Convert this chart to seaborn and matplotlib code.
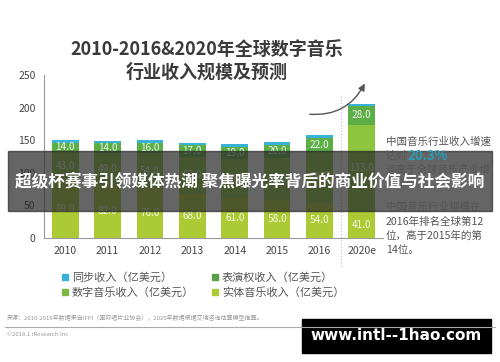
import numpy as np
import pandas as pd
import matplotlib
matplotlib.use('Agg')
import matplotlib.pyplot as plt
import seaborn as sns
from matplotlib.patches import Rectangle

# ──────────────────────────────────────────────
#  Données
# ──────────────────────────────────────────────
annees = ['2010', '2011', '2012', '2013', '2014', '2015', '2016', '2020e']
physique = [89, 82, 76, 68, 61, 58, 54, 41]
numerique = [43, 49, 54, 57, 60, 65, 78, 133]
droits_execution = [14, 14, 16, 17, 19, 20, 22, 28]
synchro = [4, 4, 4, 4, 4, 4, 4, 4]

noms_series = ['同步收入（亿美元）', '表演权收入（亿美元）', '数字音乐收入（亿美元）', '实体音乐收入（亿美元）']
couleurs = {'sync': '#38b2d6', 'perf': '#5cae47', 'digi': '#8dc53f', 'phys': '#abca33'}

titre = '2010-2016&2020年全球数字音乐\n行业收入规模及预测'
bandeau = '超级杯赛事引领媒体热潮 聚焦曝光率背后的商业价值与社会影响'
source = '来源：2010-2016年数据来自IFPI（国际唱片业协会），2020年数据根据艾瑞咨询估算模型推算。'

sns.set_theme(style='white')
plt.rcParams['font.family'] = ['Noto Sans CJK SC', 'DejaVu Sans']

W, H = 500, 362
fig = plt.figure(figsize=(W / 100, H / 100), dpi=100)


def fx(px):
    return px / W


def fy(py):
    return 1 - py / H


ax = fig.add_axes([fx(44), fy(238), fx(383) - fx(44), fy(75) - fy(238)])

df = pd.DataFrame({'annee': annees, 'phys': physique, 'digi': numerique,
                   'perf': droits_execution, 'sync': synchro})
df['c_phys'] = df['phys']
df['c_digi'] = df['c_phys'] + df['digi']
df['c_perf'] = df['c_digi'] + df['perf']
df['c_sync'] = df['c_perf'] + df['sync']

# barres empilées : on dessine les cumuls du plus grand au plus petit
for cle in ['sync', 'perf', 'digi', 'phys']:
    sns.barplot(data=df, x='annee', y='c_' + cle, color=couleurs[cle], width=0.63,
                saturation=1, errorbar=None, ax=ax, order=annees,
                linewidth=0, edgecolor='none')

# étiquettes au centre des segments
for i, row in df.iterrows():
    for cle, bas in [('phys', 0), ('digi', row['c_phys']), ('perf', row['c_digi'])]:
        ax.text(i, bas + row[cle] / 2, f"{row[cle]:.1f}", ha='center', va='center',
                color='white', alpha=0.9, fontsize=7.2)

ax.set_ylim(0, 250)
ax.set_xlim(-0.5, 7.5)
ax.set_yticks(range(0, 251, 50))
ax.set_xlabel('')
ax.set_ylabel('')
sns.despine(ax=ax)
for s in ['left', 'bottom']:
    ax.spines[s].set_color('#999999')
    ax.spines[s].set_linewidth(0.8)
ax.tick_params(axis='both', length=0, labelsize=7.5, colors='#444444')
ax.tick_params(axis='x', pad=6)
ax.tick_params(axis='y', pad=6)

# séparateur pointillé avant 2020e
ax.axvline(6.5, ymin=-0.17, ymax=0.88, color='#c8c8c8', linestyle=(0, (1, 1.5)),
           linewidth=0.9, clip_on=False)

# titre
fig.text(fx(207), fy(61), titre, ha='center', va='center', fontsize=13,
         fontweight='bold', color='#3a3a3a', linespacing=1.25)

# flèche courbe
fig.patches.append(matplotlib.patches.FancyArrowPatch(
    (fx(307), fy(114)), (fx(366), fy(81)), transform=fig.transFigure,
    connectionstyle='arc3,rad=0.35', arrowstyle='-|>,head_length=4,head_width=2',
    color='#555555', linewidth=1.0))

# texte à droite
gris = '#555555'
fig.text(fx(386), fy(142), '中国音乐行业收入增速', fontsize=7.6, color=gris, va='center')
fig.text(fx(386), fy(156), '达到', fontsize=7.6, color=gris, va='center')
fig.text(fx(407), fy(156), '20.3%', fontsize=9.5, color='#2a9db5', va='center', fontweight='bold')
fig.text(fx(386), fy(170), '远高于全球音乐产业增', fontsize=7.6, color=gris, va='center')
fig.text(fx(386), fy(184), '长速度。', fontsize=7.6, color=gris, va='center')
fig.text(fx(386), fy(207), '中国音乐行业规模在', fontsize=7.6, color=gris, va='center')
fig.text(fx(386), fy(222), '2016年排名全球第12', fontsize=7.6, color=gris, va='center')
fig.text(fx(386), fy(236), '位，高于2015年的第', fontsize=7.6, color=gris, va='center')
fig.text(fx(386), fy(250), '14位。', fontsize=7.6, color=gris, va='center')

# légende manuelle
leg = [(noms_series[0], '#38b2d6', 65, 277), (noms_series[1], '#5a9e48', 215, 277),
       (noms_series[2], '#7fb845', 65, 292), (noms_series[3], '#abca33', 215, 292)]
for lab, c, x, y in leg:
    fig.patches.append(Rectangle((fx(x - 3), fy(y + 3)), fx(6), 6 / H, color=c,
                                 transform=fig.transFigure))
    fig.text(fx(x + 7), fy(y), lab, fontsize=8, color='#555555', va='center')

# source
fig.text(fx(7), fy(318), source, fontsize=4.3, color='#999999', va='center')
fig.add_artist(plt.Line2D([fx(5), fx(495)], [fy(327), fy(327)], color='#aaaaaa',
                          linewidth=0.8, transform=fig.transFigure))
fig.text(fx(7), fy(334), '©2018.1 iResearch Inc', fontsize=4.3, color='#999999', va='center')

# bandeau superposé
fig.patches.append(Rectangle((fx(8), fy(211)), fx(492) - fx(8), 60 / H, color='#2a2a2a',
                             alpha=0.72, transform=fig.transFigure))
fig.text(fx(250), fy(181), bandeau, ha='center', va='center', fontsize=12,
         fontweight='bold', color='white')

# cadre noir du site
fig.patches.append(Rectangle((fx(302), fy(353)), fx(491) - fx(302), 34 / H, color='black',
                             transform=fig.transFigure))
fig.text(fx(396), fy(336), 'www.intl--1hao.com', ha='center', va='center', fontsize=11,
         fontweight='bold', color='white', family=['DejaVu Sans'])

fig.savefig('out.png', dpi=100)
